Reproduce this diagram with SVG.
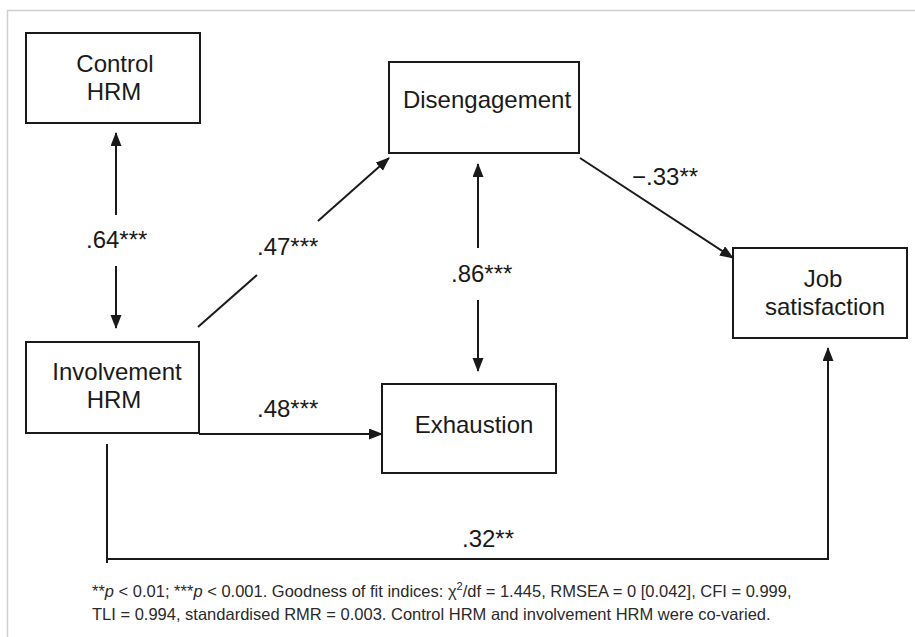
<svg xmlns="http://www.w3.org/2000/svg" width="915" height="637" viewBox="0 0 915 637">
<style>
.box{fill:#fff;stroke:#1a1a1a;stroke-width:2}
.lbl{font-family:"Liberation Sans",Arial,sans-serif;font-size:24px;fill:#1a1a1a}
.ln{fill:none;stroke:#1a1a1a;stroke-width:2}
.note{font-family:"Liberation Sans",Arial,sans-serif;font-size:16.5px;fill:#2a2a2a}
</style>
<defs>
<marker id="ah" markerUnits="userSpaceOnUse" markerWidth="14" markerHeight="12" refX="13" refY="5.5" orient="auto">
<path d="M0,0 L14,5.5 L0,11 z" fill="#1a1a1a"/>
</marker>
</defs>
<rect width="915" height="637" fill="#fff"/>
<path d="M7.5,637 V10.5 H915" fill="none" stroke="#cfcfcf" stroke-width="1.5"/>

<g id="control-hrm">
<rect class="box" x="26" y="33" width="174" height="90"/>
<text class="lbl" x="115" y="72" text-anchor="middle">Control</text>
<text class="lbl" x="114" y="100" text-anchor="middle">HRM</text>
</g>
<g id="disengagement">
<rect class="box" x="389" y="62" width="190" height="91"/>
<text class="lbl" x="487" y="108" text-anchor="middle">Disengagement</text>
</g>
<g id="involvement-hrm">
<rect class="box" x="26" y="342" width="173" height="91"/>
<text class="lbl" x="117" y="380" text-anchor="middle">Involvement</text>
<text class="lbl" x="114" y="408" text-anchor="middle">HRM</text>
</g>
<g id="exhaustion">
<rect class="box" x="382" y="384" width="174" height="89"/>
<text class="lbl" x="474" y="433" text-anchor="middle">Exhaustion</text>
</g>
<g id="job-satisfaction">
<rect class="box" x="733" y="248" width="174" height="90"/>
<text class="lbl" x="823" y="287" text-anchor="middle">Job</text>
<text class="lbl" x="825" y="315" text-anchor="middle">satisfaction</text>
</g>

<g id="connectors">
<line class="ln" x1="116" y1="215" x2="116" y2="133" marker-end="url(#ah)"/>
<line class="ln" x1="116" y1="266" x2="116" y2="328" marker-end="url(#ah)"/>
<line class="ln" x1="198" y1="327" x2="257" y2="275"/>
<line class="ln" x1="318" y1="221" x2="389" y2="158" marker-end="url(#ah)"/>
<line class="ln" x1="478" y1="248" x2="478" y2="164" marker-end="url(#ah)"/>
<line class="ln" x1="478" y1="300" x2="478" y2="371" marker-end="url(#ah)"/>
<line class="ln" x1="580" y1="158" x2="733" y2="258" marker-end="url(#ah)"/>
<line class="ln" x1="199" y1="434" x2="382" y2="434" marker-end="url(#ah)"/>
<line class="ln" x1="107" y1="444" x2="107" y2="563"/>
<polyline class="ln" points="107,559 828,559 828,348" marker-end="url(#ah)"/>
<text class="lbl" x="86" y="248">.64***</text>
<text class="lbl" x="257" y="255">.47***</text>
<text class="lbl" x="451" y="282">.86***</text>
<text class="lbl" x="632" y="185">−.33**</text>
<text class="lbl" x="257" y="417">.48***</text>
<text class="lbl" x="462" y="547">.32**</text>
</g>

<text class="note" x="92" y="597">**<tspan font-style="italic">p</tspan> &lt; 0.01; ***<tspan font-style="italic">p</tspan> &lt; 0.001. Goodness of fit indices: χ<tspan font-size="11" dy="-7">2</tspan><tspan dy="7">/df = 1.445, RMSEA = 0 [0.042], CFI = 0.999,</tspan></text>
<text class="note" x="92" y="620">TLI = 0.994, standardised RMR = 0.003. Control HRM and involvement HRM were co-varied.</text>
</svg>
